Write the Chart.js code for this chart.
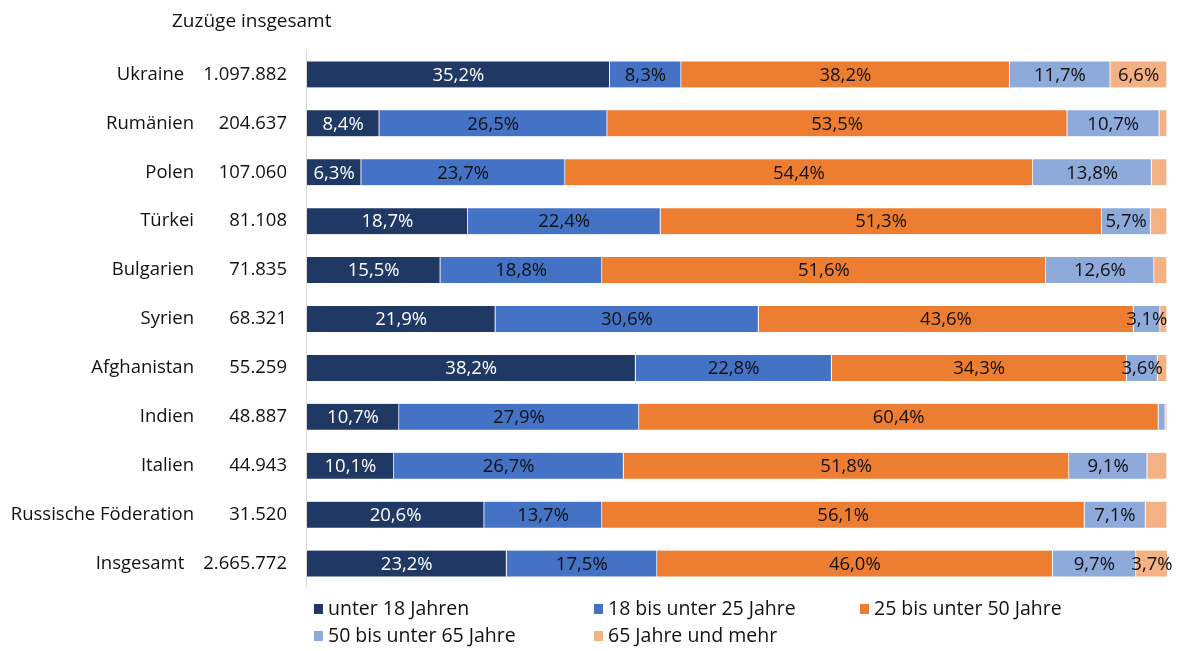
<!DOCTYPE html>
<html>
<head>
<meta charset="utf-8">
<script src="https://cdn.jsdelivr.net/npm/chart.js@4"></script>
<style>
  body { margin: 0; background: #fff; }
  canvas { display: block; }
</style>
</head>
<body>
<canvas id="myChart" width="1181" height="651"></canvas>
<script>
var categories = ['Ukraine', 'Rumänien', 'Polen', 'Türkei', 'Bulgarien', 'Syrien', 'Afghanistan', 'Indien', 'Italien', 'Russische Föderation', 'Insgesamt'];
var totals = ['1.097.882', '204.637', '107.060', '81.108', '71.835', '68.321', '55.259', '48.887', '44.943', '31.520', '2.665.772'];

var under18 = [35.2, 8.4, 6.3, 18.7, 15.5, 21.9, 38.2, 10.7, 10.1, 20.6, 23.2];
var from18to25 = [8.3, 26.5, 23.7, 22.4, 18.8, 30.6, 22.8, 27.9, 26.7, 13.7, 17.5];
var from25to50 = [38.2, 53.5, 54.4, 51.3, 51.6, 43.6, 34.3, 60.4, 51.8, 56.1, 46.0];
var from50to65 = [11.7, 10.7, 13.8, 5.7, 12.6, 3.1, 3.6, 0.8, 9.1, 7.1, 9.7];
var over65 = [6.6, 0.9, 1.8, 1.9, 1.5, 0.8, 1.1, 0.2, 2.3, 2.5, 3.7];

var seriesLabels = ['unter 18 Jahren', '18 bis unter 25 Jahre', '25 bis unter 50 Jahre', '50 bis unter 65 Jahre', '65 Jahre und mehr'];
var seriesColors = ['#203864', '#4472c4', '#ed7d31', '#8eaadb', '#f4b183'];
var labelColors = ['#ffffff', '#111111', '#111111', '#111111', '#111111'];

var FONT = '"Open Sans", "Liberation Sans", sans-serif';

// labels inside the bars, names + totals on the left, header and legend
var extras = {
    id: 'extras',
    afterDatasetsDraw: function (chart) {
        var ctx = chart.ctx;
        var area = chart.chartArea;
        var yScale = chart.scales.y;
        ctx.save();

        // thin axis line
        ctx.strokeStyle = '#d9d9d9';
        ctx.lineWidth = 1;
        ctx.beginPath();
        ctx.moveTo(area.left - 0.5, area.top);
        ctx.lineTo(area.left - 0.5, area.bottom);
        ctx.stroke();

        // values in the segments
        ctx.font = '18.5px ' + FONT;
        ctx.textAlign = 'center';
        ctx.textBaseline = 'middle';
        chart.data.datasets.forEach(function (ds, di) {
            var meta = chart.getDatasetMeta(di);
            ctx.fillStyle = labelColors[di];
            meta.data.forEach(function (bar, i) {
                var v = ds.data[i];
                if (v < 3) return;
                var cx = (bar.x + bar.base) / 2;
                ctx.fillText(v.toFixed(1).replace('.', ',') + '%', cx, bar.y + 1);
            });
        });

        // category names and totals
        ctx.fillStyle = '#111111';
        ctx.font = '18.5px ' + FONT;
        ctx.textAlign = 'right';
        categories.forEach(function (c, i) {
            var y = yScale.getPixelForValue(i);
            var numLeft = 287 - ctx.measureText(totals[i]).width;
            ctx.fillText(c, Math.min(194, numLeft - 19), y);
            ctx.fillText(totals[i], 287, y);
        });

        // header
        ctx.textAlign = 'left';
        ctx.font = '19px ' + FONT;
        ctx.fillText('Zuzüge insgesamt', 172, 22);

        // legend
        var legendPos = [[314, 609], [594, 609], [860, 609], [314, 636], [594, 636]];
        ctx.font = '19.5px ' + FONT;
        seriesLabels.forEach(function (l, i) {
            var p = legendPos[i];
            ctx.fillStyle = seriesColors[i];
            ctx.fillRect(p[0], p[1] - 5, 9, 10);
            ctx.fillStyle = '#111111';
            ctx.fillText(l, p[0] + 14, p[1]);
        });

        ctx.restore();
    }
};

var seriesData = [under18, from18to25, from25to50, from50to65, over65];

var ctx = document.getElementById('myChart').getContext('2d');
var myChart = new Chart(ctx, {
    type: 'bar',
    data: {
        labels: categories,
        datasets: seriesData.map(function (d, i) {
            return {
                label: seriesLabels[i],
                data: d,
                backgroundColor: seriesColors[i],
                borderColor: '#ffffff',
                borderWidth: { left: 0, right: 1, top: 0, bottom: 0 },
                borderSkipped: false,
                barThickness: 26
            };
        })
    },
    options: {
        indexAxis: 'y',
        responsive: false,
        animation: false,
        layout: {
            padding: { left: 307, right: 14, top: 50, bottom: 63 }
        },
        scales: {
            x: { stacked: true, min: 0, max: 100, display: false },
            y: { stacked: true, display: false }
        },
        plugins: {
            legend: { display: false },
            tooltip: { enabled: false }
        }
    },
    plugins: [extras]
});
</script>
</body>
</html>
